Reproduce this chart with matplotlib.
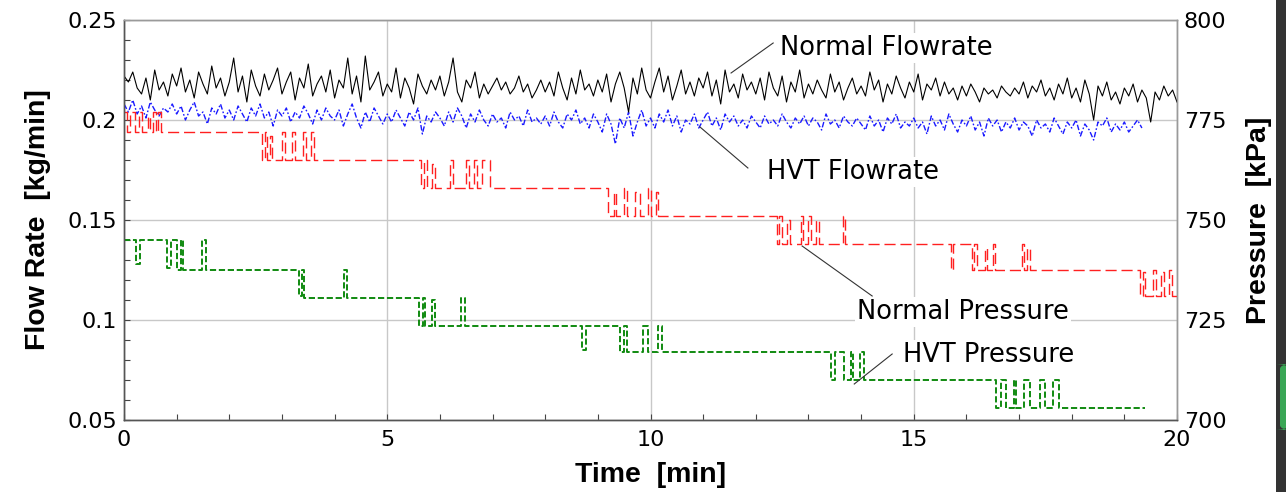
import numpy as np
import matplotlib
matplotlib.use("Agg")
import matplotlib.pyplot as plt
from matplotlib.ticker import MultipleLocator, FuncFormatter
from matplotlib.patches import Rectangle, FancyBboxPatch

# flow rates in g/min, one sample every 5 s (1/12 min)
normal_flow_g = [
    222, 219, 224, 216, 213, 221, 210, 225, 215, 219, 212, 223,
    217, 226, 214, 220, 211, 224, 218, 213, 227, 216, 221, 212,
    219, 231, 214, 222, 209, 225, 217, 212, 223, 215, 220, 226,
    213, 219, 224, 210, 221, 216, 228, 212, 218, 222, 214, 225,
    211, 220, 216, 231, 213, 222, 209, 232, 215, 219, 224, 212,
    218, 214, 226, 211, 221, 216, 208, 223, 217, 213, 220, 215,
    222, 212, 219, 231, 214, 209, 220, 216, 224, 211, 218, 213,
    217, 221, 215, 219, 213, 216, 222, 214, 218, 211, 215, 220,
    214, 219, 212, 224, 216, 210, 221, 213, 225, 215, 218, 212,
    220, 214, 223, 209, 218, 224, 216, 204, 221, 213, 226, 215,
    211, 219, 226, 214, 222, 210, 217, 225, 213, 219, 212, 221,
    216, 224, 212, 220, 208, 225, 214, 218, 211, 223, 215, 219,
    213, 221, 210, 224, 216, 212, 222, 209, 219, 214, 225, 211,
    218, 213, 220, 215, 211, 223, 214, 219, 210, 216, 221, 213,
    217, 212, 224, 215, 220, 209, 218, 213, 222, 216, 211, 219,
    214, 223, 210, 218, 215, 221, 212, 219, 213, 216, 210, 217,
    212, 218, 214, 209, 216, 213, 215, 211, 217, 214, 212, 216,
    213, 219, 211, 217, 214, 220, 212, 216, 210, 218, 213, 221,
    211, 216, 209, 220, 213, 200, 217, 212, 219, 210, 214, 208,
    216, 212, 218, 209, 215, 211, 199, 214, 210, 217, 212, 215,
    209,
]
hvt_flow_g = [
    208, 204, 210, 203, 207, 201, 209, 205, 202, 206, 204, 208,
    203, 207, 200, 205, 209, 202, 204, 198, 206, 203, 208, 201,
    205, 200, 207, 203, 199, 206, 202, 208, 201, 204, 197, 205,
    202, 206, 199, 204, 201, 207, 203, 198, 205, 200, 206, 202,
    200, 205, 197, 203, 208, 201, 196, 204, 199, 206, 202, 198,
    203, 199, 205, 201, 197, 204, 200, 206, 193, 202, 199, 204,
    201, 197, 204, 199, 206, 202, 196, 203, 199, 205, 200, 197,
    203, 199, 201, 196, 204, 200, 202, 197, 205, 199, 201, 198,
    202, 197, 204, 199, 196, 203, 200, 205, 198, 201, 196, 203,
    199, 194, 203, 198, 188, 201, 196, 204, 192, 199, 205, 197,
    201, 196, 203, 199, 205, 197, 202, 194, 200, 198, 203, 196,
    200, 204, 197, 201, 195, 203, 199, 202, 197, 200, 196, 202,
    199, 196, 202, 198, 200, 197, 203, 199, 196, 201, 198, 202,
    197, 201, 199, 195, 203, 198, 200, 196, 202, 199, 197, 201,
    198, 195, 202, 197, 200, 194, 201, 198, 203, 196, 199, 197,
    201, 196, 199, 193, 202, 197, 200, 195, 203, 198, 194, 200,
    197, 202, 195, 199, 192, 201, 197, 200, 194, 199, 196, 201,
    195, 199, 197, 192, 200, 196, 198, 194, 201, 197, 193, 199,
    196, 200, 192, 198, 195, 190, 199, 197, 201, 194, 198, 195,
    199, 194, 197, 200, 196,
]

# pressures in kPa, stepwise (time [min], value)
normal_p_t = [0, 0.05, 0.12, 0.2, 0.28, 0.35, 0.45, 0.5, 0.55, 0.6, 0.65, 0.7,
              2.62, 2.68, 2.72, 2.78, 2.82, 3.0, 3.05, 3.2, 3.25, 3.4, 3.45, 3.55, 3.6,
              5.65, 5.7, 5.75, 5.85, 5.9, 6.2, 6.25, 6.5, 6.55, 6.65, 6.7, 6.8, 6.95,
              9.2, 9.3, 9.35, 9.5, 9.55, 9.7, 9.8, 9.95, 10.0, 10.1, 10.15,
              12.4, 12.45, 12.5, 12.6, 12.65, 12.85, 12.9, 13.0, 13.05, 13.15, 13.2, 13.65, 13.7,
              15.7, 15.75, 16.1, 16.15, 16.2, 16.35, 16.4, 16.5, 16.55, 17.05, 17.1, 17.15, 17.2,
              19.3, 19.35, 19.4, 19.55, 19.6, 19.7, 19.75, 19.85, 19.9, 20.0]
normal_p = [777, 772, 777, 772, 777, 772, 776, 772, 777, 772, 777, 772,
            765, 772, 765, 771, 765, 772, 765, 772, 765, 772, 765, 772, 765,
            758, 765, 758, 764, 758, 765, 758, 765, 758, 765, 758, 765, 758,
            751, 757, 751, 758, 751, 757, 751, 758, 751, 757, 751,
            744, 751, 744, 750, 744, 751, 744, 751, 744, 750, 744, 751, 744,
            737.5, 744, 737.5, 744, 737.5, 743, 737.5, 744, 737.5, 744, 737.5, 743, 737.5,
            731, 737, 731, 737.5, 731, 737, 731, 737.5, 731, 731]

hvt_p_t = [0, 0.22, 0.3, 0.82, 0.9, 1.0, 1.08, 1.12, 1.48, 1.55,
           3.32, 3.38, 3.42, 4.17, 4.24,
           5.6, 5.68, 5.72, 5.85, 5.9, 6.4, 6.47,
           8.7, 8.78, 9.42, 9.5, 9.55, 9.85, 9.95, 10.15, 10.22,
           13.43, 13.5, 13.68, 13.8, 13.85, 13.98, 14.05,
           16.56, 16.65, 16.75, 16.9, 16.95, 17.1, 17.2, 17.4, 17.5, 17.65, 17.75, 19.4]
hvt_p = [745, 739, 745, 738, 745, 737.5, 745, 737.5, 745, 737.5,
         731, 737.5, 730.5, 737.5, 730.5,
         723.5, 730.5, 723.5, 730, 723.5, 730.5, 723.5,
         717.5, 723.5, 717, 723.5, 717, 723.5, 717, 723.5, 717,
         710, 717, 710, 717, 710, 717, 710,
         703, 710, 703, 710, 703, 710, 703, 710, 703, 710, 703, 703]

sample_min = 1 / 12
t_normal = np.arange(len(normal_flow_g)) * sample_min
t_hvt = np.arange(len(hvt_flow_g)) * sample_min

plt.rcParams['font.family'] = ['DejaVu Sans']

fig = plt.figure(figsize=(12.86, 4.92), dpi=100)
ax = fig.add_axes([124 / 1286, 1 - 420 / 492, 1053 / 1286, 400 / 492])
ax2 = ax.twinx()

ax.plot(t_hvt, np.array(hvt_flow_g) / 1000, color='#1a1aff', lw=1.0,
        dashes=(4, 1.5, 1.2, 1.5), zorder=3)
ax.plot(t_normal, np.array(normal_flow_g) / 1000, color='black', lw=0.8, zorder=4)

ax2.plot(normal_p_t, normal_p, color='#ff2020', lw=1.0, drawstyle='steps-post',
         dashes=(8, 3.5))
ax2.plot(hvt_p_t, hvt_p, color='#108a10', lw=1.4, drawstyle='steps-post',
         dashes=(3.2, 1.4))

ax.set_xlim(0, 20)
ax.set_ylim(0.05, 0.25)
ax2.set_ylim(700, 800)

ax.xaxis.set_major_locator(MultipleLocator(5))
ax.xaxis.set_minor_locator(MultipleLocator(1))
ax.yaxis.set_major_locator(MultipleLocator(0.05))
ax.yaxis.set_minor_locator(MultipleLocator(0.01))
ax.yaxis.set_major_formatter(FuncFormatter(lambda v, _: f"{v:g}"))
ax2.yaxis.set_major_locator(MultipleLocator(25))

ax.grid(True, which='major', color='#c8c8c8', lw=1.0)
ax.set_axisbelow(True)

ax.tick_params(which='both', direction='in', length=4, width=0.8, color='#444444',
               labelsize=16, pad=5, top=False, right=False)
ax.tick_params(axis='x', pad=7)
ax2.tick_params(which='both', direction='in', length=0, labelsize=16, pad=5)

for a in (ax, ax2):
    for side, sp in a.spines.items():
        sp.set_color('#555555' if side in ('left', 'bottom') else '#9a9a9a')
        sp.set_linewidth(1.0)

lab_font = dict(family=['Liberation Sans', 'DejaVu Sans'], weight='bold', size=20.5)
ax.set_xlabel('Time  [min]', labelpad=9, **lab_font)
ax.set_ylabel('Flow Rate  [kg/min]', labelpad=12, **lab_font)
ax2.set_ylabel('Pressure  [kPa]', labelpad=14, **lab_font)

box = dict(facecolor='white', edgecolor='none', pad=1.5)
notes = [
    ('Normal Flowrate', (12.46, 0.236), (11.53, 0.2235), (12.33, 0.2385)),
    ('HVT Flowrate', (12.21, 0.174), (10.94, 0.1965), (11.85, 0.176)),
    ('Normal Pressure', (13.92, 0.104), (12.88, 0.137), (14.21, 0.112)),
    ('HVT Pressure', (14.80, 0.0825), (13.87, 0.068), (14.59, 0.083)),
]
for label, (tx, ty), p0, p1 in notes:
    ax2.plot([p0[0], p1[0]], [p0[1], p1[1]], color='#333333', lw=0.8,
             transform=ax.transData, zorder=5)
    ax2.text(tx, ty, label, transform=ax.transData, fontsize=18.5,
             ha='left', va='center', bbox=box, zorder=6)

# dark strip at the right edge of the screenshot
fig.patches.append(Rectangle((1276 / 1286, 0), 10 / 1286, 1, transform=fig.transFigure,
                             facecolor='#333333', edgecolor='none', zorder=10))
fig.patches.append(FancyBboxPatch((1280 / 1286, 62 / 492), 8 / 1286, 66 / 492,
                                  boxstyle='round,pad=0,rounding_size=0.01',
                                  transform=fig.transFigure, facecolor='#3aa655',
                                  edgecolor='none', zorder=11))

fig.savefig('out.png', dpi=100)
